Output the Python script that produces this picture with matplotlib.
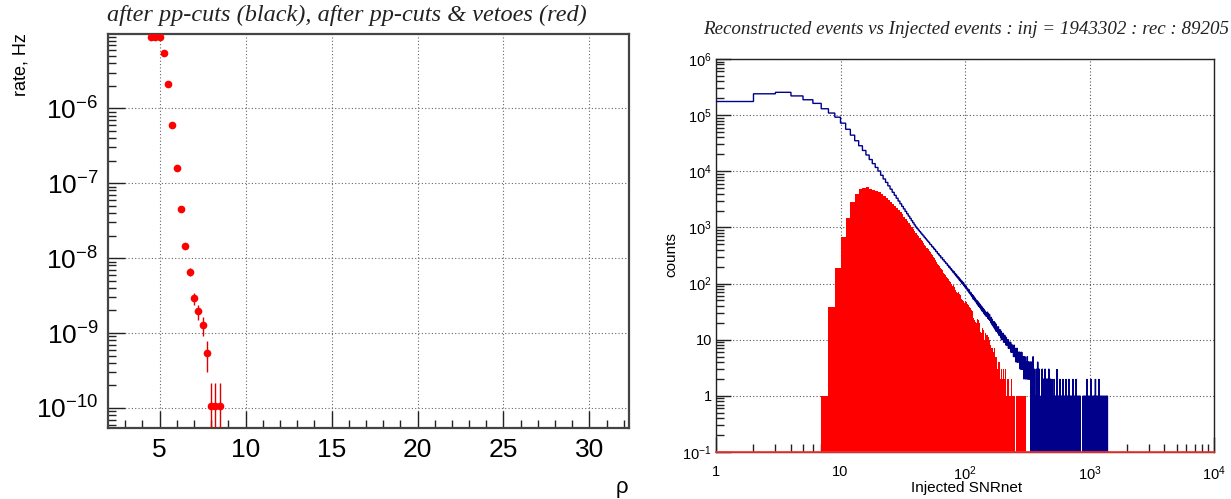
import numpy as np
import matplotlib.pyplot as plt
from matplotlib.ticker import LogLocator, FixedLocator, NullFormatter, FuncFormatter

plt.rcParams['font.family'] = ['Liberation Sans', 'DejaVu Sans']

# ---- left panel: rate vs rho (after pp-cuts & vetoes)
rho = [4.5, 4.75, 5.0, 5.25, 5.5, 5.75, 6.0, 6.25, 6.5, 6.75, 7.0, 7.25, 7.5, 7.75, 8.0, 8.25, 8.5]
rate = [8.9e-6, 8.9e-6, 8.9e-6, 5.46e-6, 2.11e-6, 6.05e-7, 1.61e-7, 4.5e-8, 1.43e-8, 6.6e-9,
        2.89e-9, 1.94e-9, 1.29e-9, 5.4e-10, 1.07e-10, 1.07e-10, 1.07e-10]
rate_err = [3.1e-8, 3.1e-8, 3.1e-8, 2.4e-8, 1.5e-8, 8.0e-9, 4.15e-9, 2.19e-9, 1.24e-9, 8.4e-10,
            5.56e-10, 4.54e-10, 3.71e-10, 2.39e-10, 1.07e-10, 1.07e-10, 1.07e-10]
rho_halfbin = 0.125
rho_ticks = [5, 10, 15, 20, 25, 30]

# ---- right panel: injected (blue) and reconstructed (red) SNRnet, bins of width 1
blue_first_bin = 1
blue_counts = [
    175000, 240000, 255000, 220000, 188000, 162000, 130000, 109000, 92000, 72000,
    56000, 44000, 35000, 28500, 23500, 19500, 16200, 13700, 11700, 10100,
    8500, 7300, 6330, 5500, 4810, 4230, 3740, 3320, 2950, 2640,
    2370, 2140, 1930, 1750, 1590, 1450, 1320, 1210, 1110, 1020,
    955, 897, 843, 793, 747, 705, 666, 630, 597, 566,
    541, 503, 490, 455, 446, 414, 405, 376, 370, 342,
    338, 314, 311, 288, 287, 265, 266, 246, 244, 228,
    229, 210, 212, 195, 198, 182, 184, 170, 172, 158,
    163, 148, 152, 138, 143, 130, 134, 122, 127, 115,
    120, 108, 113, 101, 107, 97, 102, 91, 95, 86,
    91, 82, 84, 76, 80, 72, 78, 68, 71, 65,
    69, 61, 64, 58, 62, 53, 59, 52, 56, 49,
    53, 47, 50, 44, 49, 42, 47, 40, 45, 39,
    43, 37, 41, 35, 39, 33, 38, 32, 36, 31,
    35, 29, 33, 28, 32, 27, 30, 26, 28,
    27, 31, 24, 26, 29, 23, 25, 28, 22, 24,
    23, 20, 25, 21, 19, 23, 18, 21, 20, 17,
    19, 21, 16, 18, 20, 15, 17, 19, 14, 16,
    17, 14, 16, 15, 13, 17, 14, 12, 15, 13,
    14, 12, 15, 11, 13, 14, 10, 12, 13, 11,
    12, 10, 13, 11, 9, 12, 11, 10, 12, 9,
    10, 11, 9, 8, 11, 10, 9, 8, 10, 9,
    9, 8, 10, 7, 9, 8, 9, 7, 8, 9,
    8, 7, 9, 6, 8, 7, 8, 6, 7, 8,
    7, 6, 8, 6, 7, 5, 7, 6, 8, 5,
    6, 7, 5, 6, 7, 5, 6, 4, 7, 6,
    6, 5, 7, 4, 6, 5, 4, 6, 5, 5,
    5, 4, 6, 5, 4, 5, 6, 3, 5, 4,
    5, 4, 3, 5, 4, 6, 3, 4, 5, 3,
    4, 5, 3, 4, 3, 5, 4, 2, 4, 3,
    4, 3, 5, 3, 4, 2, 4, 3, 3, 4,
    3, 4, 2, 4, 3, 3, 5, 2, 3, 4,
    3, 2, 4, 3, 3, 2, 4, 3, 2, 3,
    3, 2, 4, 2, 3, 3, 2, 4, 2, 3,
]
# sparse tail: bins holding one event, and bins holding more
blue_tail_bins = [
    341, 344, 347, 349, 352, 355, 359, 362, 370, 373, 376, 379, 383, 386, 389, 393, 398,
    411, 416, 420, 425, 430, 434, 439, 444, 449, 455, 460, 466, 471, 477, 483, 489, 495,
    501, 508, 514, 521, 528, 535, 542, 549, 556, 564, 571, 579, 587, 595, 603, 612, 620,
    629, 638, 647, 656, 665, 675, 685, 695, 705, 715, 726, 737, 748, 759, 770, 782, 794,
    806, 818, 830, 843, 884, 898, 912, 926, 940, 955, 970, 985, 1000, 1016, 1032, 1048,
    1065, 1082, 1099, 1116, 1134, 1152, 1171, 1190, 1209, 1228, 1248, 1268, 1289, 1310,
    1331, 1353, 1375, 1392,
]
blue_spike_bins = [341, 347, 352, 359, 373, 379, 383, 393, 416, 425, 439, 449, 460, 471,
                   483, 501, 521, 549, 579, 612, 647, 685, 737, 782, 955, 1032, 1116, 1190]
blue_spike_counts = [4, 3, 5, 3, 3, 2, 4, 3, 3, 2, 3, 2, 2, 3,
                     2, 2, 2, 3, 2, 2, 2, 2, 2, 2, 2, 2, 2, 2]
blue_last_edge = 1400

red_first_bin = 7
red_counts = [
    1, 39, 190, 680, 1500, 2800, 3900, 4800, 5100, 5250,
    4930, 4660, 4410, 4190, 3980,
    3700, 3365, 3070, 2812, 2585, 2380, 2200, 2040,
    1875, 1708, 1558, 1428, 1312, 1207, 1114,
    1025, 944, 873, 807, 748, 695, 647, 603, 562, 526, 492, 461, 433, 407, 383,
    361, 339, 319, 301, 283, 267, 252, 239, 226, 214, 203, 193, 183, 174, 165, 157,
    150, 143, 136, 130, 124, 119, 114, 109,
    108, 97, 99, 90, 94, 83, 88, 78, 81, 71, 76, 67, 72, 62, 66, 58, 62, 54, 59, 51,
    55, 48, 52, 45, 49, 42, 47,
    39, 44, 36, 41, 34, 39, 31, 36, 29, 34, 27, 32, 25, 30, 24, 28, 22, 27, 21, 25,
    20, 24, 18, 23, 17, 22, 16, 20, 15, 19, 14, 18, 13, 17, 12, 16, 11, 15, 11, 14,
    10, 13, 9, 13, 9, 12, 8,
    10, 12, 9, 8, 11, 9, 7, 10, 8, 9,
    8, 6, 9, 7, 8, 5, 7, 6, 8, 6,
    6, 5, 7, 4, 6, 5, 6, 4, 5, 5,
    4, 6, 3, 5, 4, 4, 3, 5, 3, 4,
    3, 4, 2, 3, 4, 2, 3, 3, 2, 4,
    2, 3, 2, 3, 1, 2, 3, 2, 2, 1,
    2, 3, 1, 2, 2, 1, 2, 2, 1, 2,
    1, 2, 1, 2, 1, 1, 2, 1, 1, 2,
    1, 1, 2, 1, 1, 1, 2, 1, 1, 1,
    1, 2, 1, 1, 1, 1, 1, 2, 1, 1,
    0, 0, 1, 0, 0, 1, 1, 1, 1, 1,
    1, 1, 1, 2, 1, 1, 1, 1, 1, 1,
    1, 1, 1, 1, 1, 1, 2, 1, 1, 1,
    1, 1, 1, 1, 1, 1, 1, 1, 1, 1,
    1, 1, 0, 1, 1, 1, 1, 1, 1, 1,
    1, 1, 1, 1, 1, 1, 1,
]
snr_ticks = [1, 10, 100, 1000, 10000]
count_ticks = [0.1, 1, 10, 100, 1000, 10000, 100000, 1000000]

left_title = 'after pp-cuts (black), after pp-cuts & vetoes (red)'
right_title = 'Reconstructed events vs Injected events : inj = 1943302 : rec : 89205'

fig = plt.figure(figsize=(12.31, 4.99), dpi=100)

# ================= left panel
ax1 = fig.add_axes([108 / 1231, 1 - 428 / 499, 521 / 1231, 394 / 499])
ax1.set_yscale('log')
lo = np.minimum(rate_err, np.array(rate) * 0.999)
ax1.errorbar(rho, rate, yerr=[lo, rate_err], xerr=rho_halfbin, fmt='o', color='red',
             ecolor='#dd0000', ms=4.5, elinewidth=1.0, capsize=0, zorder=3)
ax1.set_xlim(2.0, 32.3)
ax1.set_ylim(5.4e-11, 9.8e-6)
ax1.xaxis.set_major_locator(FixedLocator(rho_ticks))
ax1.xaxis.set_minor_locator(FixedLocator(range(3, 33)))
ax1.yaxis.set_major_locator(FixedLocator([1e-10, 1e-9, 1e-8, 1e-7, 1e-6]))
ax1.yaxis.set_minor_locator(LogLocator(base=10, subs=np.arange(2, 10)))
ax1.yaxis.set_minor_formatter(NullFormatter())
ax1.yaxis.set_major_formatter(FuncFormatter(lambda v, p: '$\\mathdefault{10^{%d}}$'
                                            % int(round(np.log10(v)))))
ax1.tick_params(which='both', direction='in', top=False, right=False, labelsize=19,
                color='#222')
ax1.tick_params(which='major', length=12, width=1.0, pad=7)
ax1.tick_params(which='minor', length=6, width=1.0)
ax1.grid(True, which='major', linestyle=(0, (1, 2)), color='#666', lw=0.8)
for s in ax1.spines.values():
    s.set_linewidth(1.6)
    s.set_color('#444')

fig.text(347 / 1231, 1 - 15 / 499, left_title, family='Liberation Serif', style='italic',
         fontsize=17.5, ha='center', va='center', color='#222')
fig.text(21 / 1231, 1 - 33 / 499, 'rate, Hz', rotation=90, ha='center', va='top', fontsize=13)
fig.text(628 / 1231, 1 - 488 / 499, 'ρ', ha='right', va='center', fontsize=16)

# ================= right panel
ax2 = fig.add_axes([716 / 1231, 1 - 452 / 499, 498 / 1231, 393 / 499])
ax2.set_xscale('log')
ax2.set_yscale('log')

blue = np.zeros(blue_last_edge - blue_first_bin)
blue[:len(blue_counts)] = blue_counts
blue[np.array(blue_tail_bins) - blue_first_bin] = 1
blue[np.array(blue_spike_bins) - blue_first_bin] = blue_spike_counts
blue_edges = np.arange(blue_first_bin, blue_last_edge + 1)

red = np.array(red_counts, dtype=float)
red_edges = np.arange(red_first_bin, red_first_bin + len(red) + 1)

ax2.stairs(np.where(red > 0, red, 1e-3), red_edges, fill=True, color='red',
           baseline=1e-3, zorder=2)
ax2.stairs(np.where(blue > 0, blue, 1e-3), blue_edges, color='#00008b', lw=1.0,
           baseline=None, zorder=3)
ax2.axhline(0.1, color='#ff3030', lw=1.2, zorder=4, clip_on=False)

ax2.set_xlim(1, 1e4)
ax2.set_ylim(0.1, 1e6)


def root_log(v, pos):
    e = int(round(np.log10(v)))
    if e == 0:
        return '1'
    if e == 1:
        return '10'
    return '$\\mathdefault{10^{%d}}$' % e


ax2.xaxis.set_major_locator(FixedLocator(snr_ticks))
ax2.yaxis.set_major_locator(FixedLocator(count_ticks))
for axis in (ax2.xaxis, ax2.yaxis):
    axis.set_minor_locator(LogLocator(base=10, subs=np.arange(2, 10), numticks=12))
    axis.set_minor_formatter(NullFormatter())
    axis.set_major_formatter(FuncFormatter(root_log))
ax2.tick_params(which='both', direction='in', top=False, right=False, labelsize=10.5,
                color='#222')
ax2.tick_params(which='major', length=11, width=1.0)
ax2.tick_params(axis='y', which='major', pad=3)
ax2.tick_params(axis='x', which='major', pad=9)
ax2.tick_params(which='minor', length=6, width=1.0)
ax2.grid(True, which='major', linestyle=(0, (1, 2)), color='#555', lw=0.8)
for s in ax2.spines.values():
    s.set_linewidth(1.0)
    s.set_color('#222')

fig.text(703 / 1231, 1 - 30 / 499, right_title, family='Liberation Serif', style='italic',
         fontsize=13.7, ha='left', va='center', color='#222')
fig.text(671 / 1231, 1 - 255 / 499, 'counts', rotation=90, ha='center', va='center',
         fontsize=11)
fig.text(967 / 1231, 1 - 488 / 499, 'Injected SNRnet', ha='center', va='center', fontsize=11)

fig.savefig('out.png', dpi=100)
